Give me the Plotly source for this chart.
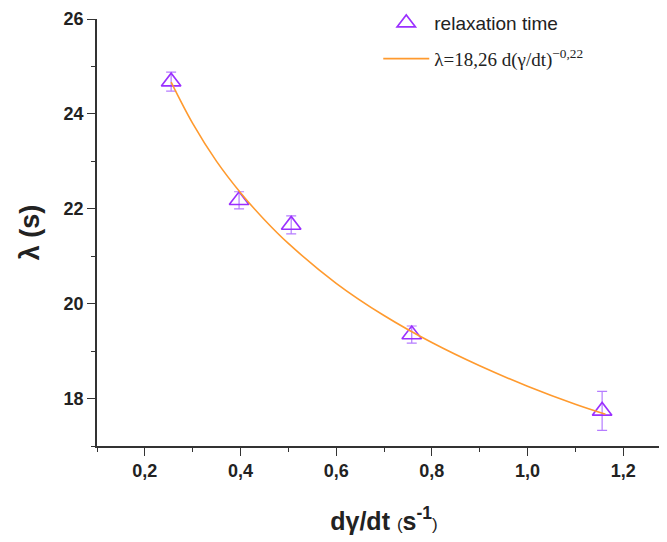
import plotly.graph_objects as go

# measured points (shear rate, relaxation time) with error
rate = [0.255, 0.397, 0.506, 0.758, 1.156]
lam = [24.68, 22.18, 21.66, 19.35, 17.74]
lam_err = [0.2, 0.18, 0.19, 0.18, 0.41]

# fitted curve
fit_x = [0.255, 0.30, 0.35, 0.40, 0.45, 0.50, 0.60, 0.70, 0.80, 0.90, 1.00, 1.10, 1.163]
fit_y = [24.67, 23.80, 23.00, 22.34, 21.77, 21.27, 20.43, 19.75, 19.18, 18.69, 18.26, 17.88, 17.67]

purple = '#9b30ff'
orange = '#ff9a2e'
axis_col = '#333333'
tick_font = dict(family='Liberation Sans, Arial', size=18, color='#222', weight='bold')

fig = go.Figure()

fig.add_trace(go.Scatter(
    x=rate, y=lam, mode='markers', name='relaxation time',
    marker=dict(symbol='triangle-up-open', size=17, color=purple, line=dict(width=1.6, color=purple)),
    error_y=dict(type='data', array=lam_err, color='#b57cff', thickness=1.2, width=5),
    legendgroup='a'
))

fig.add_trace(go.Scatter(
    x=fit_x, y=fit_y, mode='lines', line_shape='spline',
    name='<span style="font-family:Liberation Serif, Times New Roman, serif">λ=18,26 d(γ/dt)<sup>−0,22</sup></span>',
    line=dict(color=orange, width=1.6),
    legendgroup='b'
))

# page body has an 8px margin, so margins are shifted by 8px
fig.update_xaxes(
    range=[0.1, 1.3], tick0=0, dtick=0.2, tickformat='.1f', automargin=False,
    showgrid=False, zeroline=False, ticklabeloverflow='allow',
    showline=True, linecolor=axis_col, linewidth=1.5,
    ticks='outside', ticklen=8, tickwidth=1.3, tickcolor=axis_col,
    minor=dict(ticks='outside', ticklen=4, tickwidth=1.2, tickcolor=axis_col, dtick=0.1, tick0=0),
    tickfont=tick_font,
    title=dict(text='<b>dγ/dt</b> <span style="font-size:17px">(</span><b>s</b><sup><b>-1</b></sup><span style="font-size:17px">)</span>',
               font=dict(family='Liberation Sans, Arial', size=25, color='#222'), standoff=32)
)
fig.update_yaxes(
    range=[17, 26.001], tick0=0, dtick=2, automargin=False,
    showgrid=False, zeroline=False, ticklabeloverflow='allow',
    showline=True, linecolor=axis_col, linewidth=1.5,
    ticks='outside', ticklen=8, tickwidth=1.3, tickcolor=axis_col,
    minor=dict(ticks='outside', ticklen=4, tickwidth=1.2, tickcolor=axis_col, dtick=1, tick0=0),
    tickfont=tick_font,
    title=dict(text='<b>λ (s)</b>', font=dict(family='Liberation Sans, Arial', size=27, color='#222'), standoff=16)
)

fig.update_layout(
    width=667, height=542,
    margin=dict(l=89, r=4, t=11, b=104, autoexpand=False),
    paper_bgcolor='white', plot_bgcolor='white',
    separators=',.',
    showlegend=True,
    legend=dict(x=0.49, y=1.035, xanchor='left', yanchor='top', bgcolor='rgba(0,0,0,0)',
                font=dict(family='Liberation Sans, Arial', size=19, color='#222'),
                tracegroupgap=8, itemwidth=46)
)

fig.write_html("out.html")
